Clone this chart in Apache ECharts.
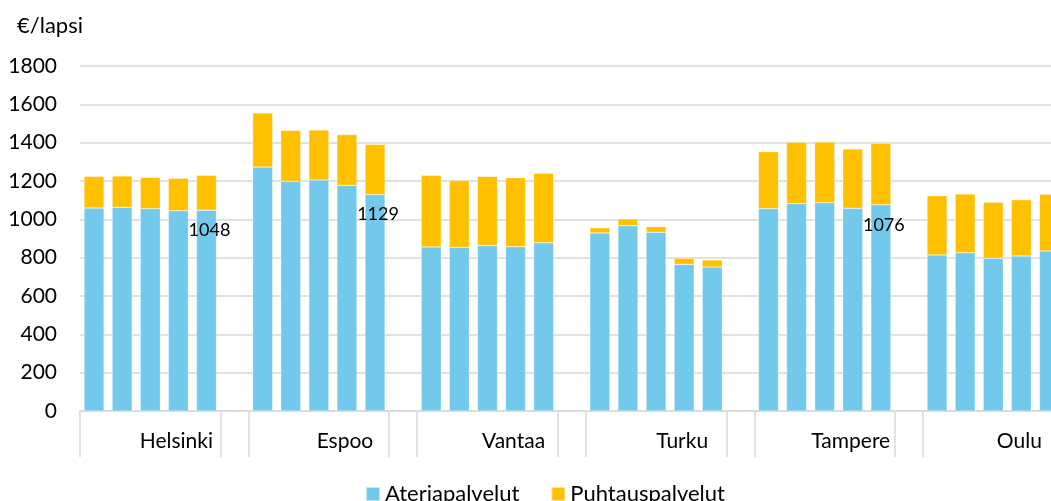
<!DOCTYPE html>
<html>
<head>
<meta charset="utf-8">
<script src="https://cdn.jsdelivr.net/npm/echarts@6/dist/echarts.min.js"></script>
<style>
html,body{margin:0;padding:0;background:#fff;}
#chart{width:1051px;height:501px;}
</style>
</head>
<body>
<div id="chart"></div>
<script>
// ---- data ----
var cities = ['Helsinki', 'Espoo', 'Vantaa', 'Turku', 'Tampere', 'Oulu'];
var yTicks = [0, 200, 400, 600, 800, 1000, 1200, 1400, 1600, 1800];
var seriesNames = ['Ateriapalvelut', 'Puhtauspalvelut'];

var ateriaHelsinki = [1059, 1063, 1056, 1045, 1048];
var ateriaEspoo    = [1273, 1198, 1205, 1177, 1129];
var ateriaVantaa   = [856, 854, 863, 857, 878];
var ateriaTurku    = [929, 967, 932, 765, 751];
var ateriaTampere  = [1056, 1082, 1087, 1058, 1076];
var ateriaOulu     = [814, 826, 797, 809, 835];

var puhtausHelsinki = [165, 163, 163, 169, 182];
var puhtausEspoo    = [282, 266, 261, 265, 262];
var puhtausVantaa   = [374, 348, 361, 360, 362];
var puhtausTurku    = [27, 35, 30, 32, 37];
var puhtausTampere  = [297, 320, 316, 309, 321];
var puhtausOulu     = [309, 306, 292, 293, 296];

// bars that carry a value label (city index, bar index)
var labelledBars = [[0, 4], [1, 4], [4, 4]];

// ---- build ----
var ateria = [ateriaHelsinki, ateriaEspoo, ateriaVantaa, ateriaTurku, ateriaTampere, ateriaOulu];
var puhtaus = [puhtausHelsinki, puhtausEspoo, puhtausVantaa, puhtausTurku, puhtausTampere, puhtausOulu];

var categories = [];
var catCity = [];
var dataA = [];
var dataP = [];
cities.forEach(function (c, ci) {
  for (var k = 0; k < 5; k++) {
    categories.push(c + ' ' + (k + 1));
    catCity.push(c);
    var item = { value: ateria[ci][k] };
    labelledBars.forEach(function (lb) {
      if (lb[0] === ci && lb[1] === k) {
        item.label = {
          show: true, position: 'insideTop', distance: 5, offset: [3, 6],
          color: '#000', fontSize: 18, fontFamily: 'Lato'
        };
      }
    });
    dataA.push(item);
    dataP.push(puhtaus[ci][k]);
  }
  if (ci < cities.length - 1) {
    categories.push('gap ' + ci);
    catCity.push('');
    dataA.push(null);
    dataP.push(null);
  }
});

var chart = echarts.init(document.getElementById('chart'), null, { renderer: 'canvas' });
var option = {
  animation: false,
  backgroundColor: '#fff',
  textStyle: { fontFamily: 'Lato' },
  title: {
    text: '€/lapsi', left: 12, top: 10,
    textStyle: { fontSize: 22, fontWeight: 'normal', color: '#000', fontFamily: 'Lato' }
  },
  legend: {
    data: seriesNames, left: 365, top: 483, padding: 0,
    itemWidth: 14, itemHeight: 14, itemGap: 31,
    icon: 'rect',
    textStyle: { fontSize: 22, color: '#000', fontFamily: 'Lato' }
  },
  grid: {
    left: 80, top: 66, bottom: 90, width: 983.5,
    containLabel: false, outerBoundsMode: 'none'
  },
  xAxis: {
    type: 'category',
    data: categories,
    boundaryGap: true,
    axisLine: { show: true, lineStyle: { color: '#d9d9d9', width: 1.5 } },
    axisTick: {
      show: true, length: 46,
      lineStyle: { color: '#d9d9d9', width: 1.5 },
      interval: function (i) { return i % 6 === 0 || i % 6 === 5; }
    },
    axisLabel: {
      show: true, fontSize: 21, color: '#000', fontFamily: 'Lato', margin: 20,
      interval: function (i) { return i % 6 === 3; },
      formatter: function (v, i) { return catCity[i]; },
      padding: [0, 4, 0, 0]
    },
    splitLine: { show: false }
  },
  yAxis: {
    type: 'value', min: yTicks[0], max: yTicks[yTicks.length - 1], interval: 200,
    axisLine: { show: false }, axisTick: { show: false },
    axisLabel: {
      fontSize: 21, color: '#000', fontFamily: 'Lato', margin: 23,
      formatter: function (v) { return String(v); }
    },
    splitLine: { lineStyle: { color: '#d9d9d9', width: 1.5 } }
  },
  series: [
    {
      name: seriesNames[0], type: 'bar', stack: 'total', barWidth: 20,
      itemStyle: { color: '#72C9EB', borderColor: 'rgba(255,255,255,0.6)', borderWidth: 0.5 },
      data: dataA
    },
    {
      name: seriesNames[1], type: 'bar', stack: 'total', barWidth: 20,
      itemStyle: { color: '#FFC000', borderColor: 'rgba(255,255,255,0.6)', borderWidth: 0.5 },
      data: dataP
    }
  ]
};
chart.setOption(option);
</script>
</body>
</html>
